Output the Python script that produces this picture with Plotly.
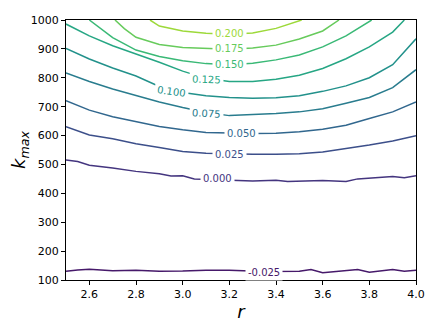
import plotly.graph_objects as go
from plotly.colors import sample_colorscale

# contour levels and the traced contour lines (r, k_max)
levels = [-0.025, 0.000, 0.025, 0.050, 0.075, 0.100, 0.125, 0.150, 0.175, 0.200]

r_m025 = [2.5, 2.55, 2.6, 2.7, 2.8, 2.9, 3.0, 3.1, 3.2, 3.35, 3.5, 3.55, 3.6, 3.7, 3.75, 3.8, 3.9, 3.95, 4.0]
k_m025 = [130, 135, 137, 132, 134, 130, 131, 134, 134, 129, 130, 136, 125, 132, 136, 127, 136, 130, 134]

r_000 = [2.5, 2.55, 2.6, 2.7, 2.8, 2.9, 2.95, 3.0, 3.05, 3.1, 3.2, 3.3, 3.4, 3.45, 3.6, 3.7, 3.75, 3.9, 3.95, 4.0]
k_000 = [515, 510, 497, 488, 476, 468, 460, 461, 450, 449, 447, 443, 445, 441, 444, 441, 450, 458, 454, 461]

r_025 = [2.5, 2.6, 2.7, 2.8, 2.9, 3.0, 3.1, 3.2, 3.3, 3.4, 3.5, 3.6, 3.7, 3.8, 3.9, 4.0]
k_025 = [631, 602, 589, 572, 559, 545, 539, 536, 535, 535, 537, 543, 554, 567, 581, 599]

r_050 = [2.5, 2.6, 2.7, 2.8, 2.9, 3.0, 3.1, 3.2, 3.3, 3.4, 3.5, 3.6, 3.7, 3.8, 3.9, 4.0]
k_050 = [721, 688, 665, 648, 631, 620, 611, 609, 607, 608, 613, 622, 636, 659, 682, 716]

r_075 = [2.5, 2.6, 2.7, 2.8, 2.9, 3.0, 3.1, 3.2, 3.3, 3.4, 3.5, 3.6, 3.7, 3.8, 3.9, 4.0]
k_075 = [817, 787, 761, 738, 716, 697, 680, 669, 672, 676, 682, 693, 712, 732, 766, 828]

r_100 = [2.5, 2.6, 2.7, 2.8, 2.9, 3.0, 3.1, 3.2, 3.3, 3.4, 3.5, 3.6, 3.7, 3.8, 3.9, 4.0]
k_100 = [902, 865, 834, 806, 770, 749, 738, 732, 729, 731, 738, 753, 772, 800, 845, 935]

r_125 = [2.5, 2.6, 2.7, 2.8, 2.9, 3.0, 3.1, 3.2, 3.3, 3.4, 3.5, 3.6, 3.7, 3.8, 3.9, 3.95]
k_125 = [986, 945, 911, 883, 854, 823, 798, 787, 787, 795, 809, 832, 866, 907, 958, 1000]

r_150 = [2.6, 2.7, 2.8, 2.9, 3.0, 3.1, 3.2, 3.3, 3.4, 3.5, 3.6, 3.7, 3.81]
k_150 = [1000, 939, 896, 874, 859, 849, 845, 850, 862, 879, 907, 945, 1000]

r_175 = [2.71, 2.75, 2.8, 2.9, 3.0, 3.1, 3.2, 3.3, 3.4, 3.5, 3.6, 3.67]
k_175 = [1000, 970, 940, 915, 905, 901, 899, 903, 913, 934, 962, 1000]

r_200 = [2.86, 2.9, 3.0, 3.1, 3.2, 3.3, 3.4, 3.51]
k_200 = [1000, 979, 962, 954, 951, 955, 971, 1000]

lines_r = [r_m025, r_000, r_025, r_050, r_075, r_100, r_125, r_150, r_175, r_200]
lines_k = [k_m025, k_000, k_025, k_050, k_075, k_100, k_125, k_150, k_175, k_200]

# inline label texts and positions
label_text = ["-0.025", "0.000", "0.025", "0.050", "0.075", "0.100", "0.125", "0.150", "0.175", "0.200"]
label_r = [3.35, 3.15, 3.2, 3.25, 3.1, 2.95, 3.1, 3.2, 3.2, 3.2]
label_k = [127, 450, 536, 608, 677, 753, 795, 845, 900, 953]
label_angle = [0, 0, 0, 0, 3, 8, 2, 0, 0, 0]

x_ticks = [2.6, 2.8, 3.0, 3.2, 3.4, 3.6, 3.8, 4.0]
y_ticks = [100, 200, 300, 400, 500, 600, 700, 800, 900, 1000]

# viridis colours by level (norm range a bit wider than the levels shown)
vmin, vmax = -0.045, 0.243
colors = sample_colorscale("Viridis", [(lv - vmin) / (vmax - vmin) for lv in levels])

fig = go.Figure()

for i, lv in enumerate(levels):
    fig.add_trace(go.Scatter(
        x=lines_r[i], y=lines_k[i], mode="lines",
        line=dict(color=colors[i], width=1.5),
        hoverinfo="skip", showlegend=False
    ))
    fig.add_annotation(
        x=label_r[i], y=label_k[i], text=label_text[i], showarrow=False,
        textangle=label_angle[i], bgcolor="white", borderpad=2,
        font=dict(family="DejaVu Sans", size=10, color=colors[i])
    )

axis_style = dict(
    showline=True, linecolor="black", linewidth=1, mirror=True,
    ticks="outside", ticklen=4, tickwidth=1, tickcolor="black",
    showgrid=False, zeroline=False, ticklabeloverflow="allow",
    tickfont=dict(family="DejaVu Sans", size=11, color="black")
)

fig.update_xaxes(range=[2.5, 4.0], tickvals=x_ticks, tickformat=".1f",
                 title=dict(text="<i>r</i>", font=dict(family="DejaVu Sans", size=18, color="black"), standoff=2),
                 **axis_style)
fig.update_yaxes(range=[100, 1000], tickvals=y_ticks,
                 title=dict(text="<i>k<sub>max</sub></i>", font=dict(family="DejaVu Sans", size=18, color="black"), standoff=4),
                 **axis_style)

fig.update_layout(
    width=436, height=327,
    margin=dict(l=58, r=28, t=6, b=55),
    paper_bgcolor="white", plot_bgcolor="white",
    showlegend=False
)

fig.write_html("out.html")
